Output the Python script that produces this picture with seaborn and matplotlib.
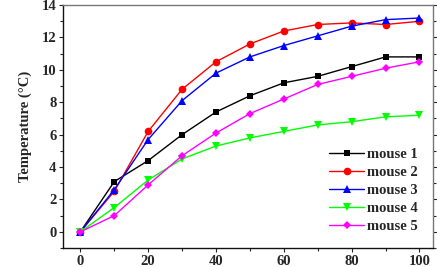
import numpy as np
import pandas as pd
import seaborn as sns
import matplotlib.pyplot as plt
from matplotlib.ticker import MultipleLocator

# data
time_list = [0, 10, 20, 30, 40, 50, 60, 70, 80, 90, 100]
mouse1 = [0, 3.1, 4.4, 6.0, 7.4, 8.4, 9.2, 9.6, 10.2, 10.8, 10.8]
mouse2 = [0, 2.5, 6.2, 8.8, 10.5, 11.6, 12.4, 12.8, 12.9, 12.8, 13.0]
mouse3 = [0, 2.6, 5.7, 8.1, 9.8, 10.8, 11.5, 12.1, 12.7, 13.1, 13.2]
mouse4 = [0, 1.5, 3.2, 4.5, 5.3, 5.8, 6.2, 6.6, 6.8, 7.1, 7.2]
mouse5 = [0, 1.0, 2.9, 4.7, 6.1, 7.3, 8.2, 9.1, 9.6, 10.1, 10.5]
labels = ["mouse 1", "mouse 2", "mouse 3", "mouse 4", "mouse 5"]

sns.set_theme(style="ticks")
plt.rcParams["font.family"] = ["Liberation Serif", "DejaVu Serif"]
plt.rcParams["font.weight"] = "bold"

df = pd.DataFrame({
    "time": time_list * 5,
    "temp": mouse1 + mouse2 + mouse3 + mouse4 + mouse5,
    "mouse": np.repeat(labels, len(time_list)),
})

colors = ["#000000", "#ff0000", "#0000ff", "#00ff00", "#ff00ff"]
markers = ["s", "o", "^", "v", "D"]
sizes = [5, 5.5, 5.5, 5.5, 4.5]

fig = plt.figure(figsize=(4.37, 2.67), dpi=100)
ax = fig.add_axes([0.145, 0.071, 0.846, 0.91])

for i, lab in enumerate(labels):
    sub = df[df["mouse"] == lab]
    sns.lineplot(data=sub, x="time", y="temp", color=colors[i], marker=markers[i],
                 markersize=sizes[i], markeredgewidth=0, linewidth=1.0,
                 label=lab, ax=ax)

ax.set_xlim(-5, 104)
ax.set_ylim(-1, 14)
ax.xaxis.set_major_locator(MultipleLocator(20))
ax.xaxis.set_minor_locator(MultipleLocator(10))
ax.yaxis.set_major_locator(MultipleLocator(2))
ax.yaxis.set_minor_locator(MultipleLocator(1))
ax.tick_params(which="both", direction="out", labelsize=10.5, width=0.8, pad=2)
ax.tick_params(which="major", length=3)
ax.tick_params(which="minor", length=2)
ax.tick_params(axis="y", which="both", right=True)
for lab in ax.get_xticklabels() + ax.get_yticklabels():
    lab.set_fontweight("bold")

for s in ["left", "bottom"]:
    ax.spines[s].set_linewidth(1.0)
    ax.spines[s].set_color("#111111")
for s in ["top", "right"]:
    ax.spines[s].set_linewidth(1.0)
    ax.spines[s].set_color("#777777")

ax.set_xlabel("")
ax.set_ylabel("Temperature (\u00b0C)", fontsize=10.5, fontweight="bold", labelpad=7)

leg = ax.legend(loc="lower right", frameon=False, fontsize=10.5, handlelength=2.4,
                labelspacing=0.33, borderaxespad=0.5, handletextpad=0.2,
                bbox_to_anchor=(0.995, 0.008))

fig.savefig("out.png", dpi=100)
